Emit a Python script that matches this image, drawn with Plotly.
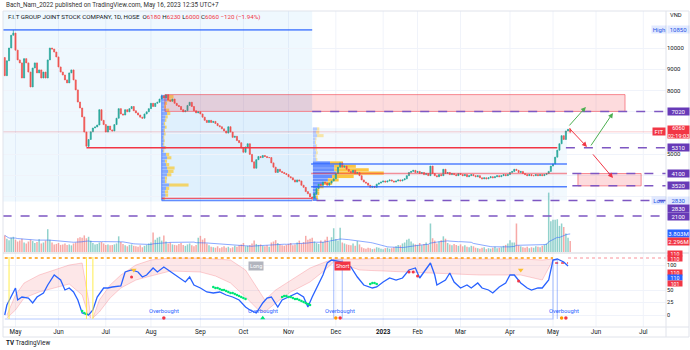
import numpy as np
import pandas as pd
import plotly.graph_objects as go

FONT = "Roboto, 'Liberation Sans', Arial, sans-serif"
TXT = "#131722"
UP, DN = "#26a69a", "#ef5350"
PURPLE = "#673ab7"

# ---------------- DATA ----------------
holidays = ["2022-05-02", "2022-05-03", "2022-09-01", "2022-09-02", "2023-01-02",
            "2023-01-20", "2023-01-23", "2023-01-24", "2023-01-25", "2023-01-26",
            "2023-05-01", "2023-05-02", "2023-05-03"]

first_open = 9550
close = [
    8700, 9400, 10000, 10600, 10700, 9900, 9440, 9300, 8590, 9500,
    9300, 8870, 8170, 9060, 9300, 8830, 8970, 8590, 8870, 8590,
    9440, 10000, 9950, 9810, 9580, 9110, 8870, 8730, 8500, 8360,
    8830, 8970, 8500, 8030, 7460, 7180, 6760, 6050, 5380, 5700,
    6060, 6240, 6290, 6380, 7100, 6600, 6400, 6050, 6330, 6150,
    6100, 6400, 6700, 7150, 6900, 6850, 7100, 7000, 7150, 7250,
    7050, 6950, 6850, 6750, 6700, 6900, 7000, 7150, 7400, 7250,
    7400, 7450, 7600, 7750, 7650, 7800, 7550, 7500, 7600, 7400,
    7300, 7250, 7100, 7000, 7050, 7300, 7450, 7250, 7050, 6950,
    7000, 6900, 6750, 6600, 6500, 6600, 6500, 6550, 6450, 6350,
    6300, 6200, 6100, 6000, 6300, 6050, 5800, 5850, 5650, 5550,
    5300, 5100, 5350, 5500, 5000, 4650, 4350, 4750, 4900, 4850,
    4950, 4900, 4850, 4850, 4600, 4400, 4150, 4300, 4200, 4150,
    4100, 4050, 3950, 3900, 3800, 3700, 3800, 3750, 3550, 3450,
    3250, 3150, 3000, 2950, 3150, 3400, 3600, 3550, 3700, 3650,
    3550, 3650, 3750, 3850, 4100, 4400, 4600, 4400, 4450, 4300,
    4200, 4150, 4250, 4100, 4150, 4000, 3800, 3700, 3650, 3550,
    3450, 3500, 3450, 3600, 3650, 3700, 3750, 3700, 3750, 3800,
    3750, 3700, 3750, 3800, 3750, 3800, 3850, 4000, 4150, 4200,
    4250, 4150, 4200, 4100, 4150, 4050, 4100, 4000, 4450, 4100,
    4000, 3950, 4050, 4000, 4300, 4100, 4150, 4050, 4100, 4050,
    4000, 4100, 4050, 4000, 4050, 3950, 4000, 4050, 4000, 3950,
    4000, 3900, 3850, 3900, 3850, 3900, 3950, 3900, 3950, 4000,
    3950, 4000, 4050, 4000, 4050, 4150, 4200, 4300, 4250, 4150,
    4200, 4100, 4050, 4000, 4050, 4000, 4000, 4050, 4000, 4050,
    4000, 4050, 4100, 4200, 4450, 4550, 4870, 5200, 5500, 5880,
    5700, 6100, 6180, 6060,
]
wick_high = {4: 10850, 263: 6230}
wick_low = {39: 5310, 143: 2830, 263: 6000}

volume_m = [
    3.5, 2.8, 2.5, 3.0, 3.2, 2.6, 2.2, 2.4, 2.8, 2.0,
    1.8, 2.2, 2.6, 2.3, 1.9, 2.1, 2.7, 1.8, 2.0, 2.4,
    4.8, 2.6, 2.0, 1.6, 1.7, 1.9, 1.5, 1.6, 1.8, 1.5,
    1.6, 1.4, 1.8, 2.0, 2.9, 3.1, 3.0, 3.5, 2.9, 3.2,
    2.4, 1.9, 1.6, 1.7, 2.0, 2.1, 1.8, 1.5, 1.6, 1.4,
    1.5, 1.6, 1.8, 3.3, 2.1, 1.7, 1.4, 1.2, 1.5, 1.6,
    1.3, 1.2, 1.1, 1.4, 1.0, 1.3, 1.5, 1.8, 2.0, 4.1,
    2.6, 3.0, 3.2, 2.4, 3.5, 2.2, 1.8, 2.0, 1.6, 1.5,
    1.4, 1.7, 1.9, 1.5, 1.3, 1.6, 1.8, 1.4, 1.2, 1.5,
    3.0, 3.4, 2.6, 2.9, 1.8, 1.4, 1.1, 1.0, 0.9, 1.2,
    0.8, 1.0, 1.2, 0.9, 1.1, 0.8, 1.0, 1.3, 1.1, 1.4,
    1.6, 1.9, 1.2, 1.3, 1.5, 1.8, 2.4, 1.7, 1.5, 1.6,
    1.3, 1.2, 1.4, 1.1, 2.0, 2.2, 2.5, 1.9, 1.6, 1.4,
    1.3, 1.5, 1.7, 1.9, 1.4, 1.6, 2.0, 2.4, 1.8, 2.1,
    3.4, 2.6, 2.8, 3.0, 2.2, 1.9, 1.7, 2.4, 2.1, 2.6,
    3.2, 2.2, 3.1, 5.0, 2.7, 2.4, 5.1, 2.0, 1.8, 1.6,
    1.5, 1.4, 1.8, 1.3, 2.3, 1.6, 1.0, 0.8, 0.7, 0.9,
    0.8, 0.6, 0.7, 1.0, 0.9, 0.7, 0.6, 0.8, 0.9, 0.7,
    0.8, 1.0, 1.2, 1.5, 1.4, 1.8, 2.0, 2.6, 2.8, 2.2,
    1.8, 1.6, 1.5, 1.9, 1.4, 1.7, 2.0, 1.6, 6.0, 2.9,
    2.4, 1.8, 2.2, 2.5, 3.3, 2.8, 1.9, 1.6, 1.4, 1.7,
    1.5, 1.3, 1.6, 1.2, 1.4, 1.1, 1.0, 1.3, 1.2, 0.9,
    0.8, 0.7, 0.9, 1.0, 0.6, 0.8, 0.7, 0.9, 1.1, 0.8,
    0.9, 1.0, 1.3, 1.5, 1.8, 2.5, 2.0, 2.0, 6.0, 1.4,
    1.2, 1.0, 0.9, 1.1, 0.8, 1.0, 0.9, 1.2, 1.1, 1.0,
    1.3, 1.5, 1.8, 12.5, 6.5, 6.8, 6.8, 6.9, 5.5, 6.0,
    5.26, 3.9, 3.0, 2.296,
]

month_starts = ["2022-05-01", "2022-06-01", "2022-07-01", "2022-08-01", "2022-09-01",
                "2022-10-01", "2022-11-01", "2022-12-01", "2023-01-01", "2023-02-01",
                "2023-03-01", "2023-04-01", "2023-05-01", "2023-06-01", "2023-07-01"]
month_labels = ["May", "Jun", "Jul", "Aug", "Sep", "Oct", "Nov", "Dec", "<b>2023</b>",
                "Feb", "Mar", "Apr", "May", "Jun", "Jul"]

# oscillator (bar number, value)
osc_bar = [0, 1, 5, 6, 8, 11, 13, 15, 18, 20, 23, 26, 28, 30, 32, 34, 36, 39, 41, 43,
           46, 48, 50, 54, 56, 59, 62, 64, 66, 69, 71, 74, 76, 78, 81, 84, 86, 88, 91, 94,
           97, 100, 103, 106, 109, 112, 114, 117, 120, 122, 124, 127, 129, 131, 134, 136, 139, 141, 143, 146,
           148, 150, 152, 157, 161, 164, 167, 171, 173, 176, 179, 182, 185, 188, 191, 193, 195, 198, 200, 201,
           205, 207, 209, 212, 215, 217, 220, 222, 225, 227, 230, 233, 235, 237, 240, 243, 245, 248, 250, 253,
           255, 257, 260, 262]
osc_val = [0, 20, 54, 30, 36, 34, 24, 36, 44, 60, 80, 70, 50, 54, 46, 30, 4, 0, 10, 36,
           54, 54, 56, 58, 86, 90, 86, 76, 80, 94, 86, 96, 90, 84, 76, 66, 76, 60, 54, 46,
           44, 46, 40, 36, 30, 16, 10, 4, 24, 34, 36, 16, 30, 34, 40, 44, 36, 16, 36, 64,
           80, 104, 110, 106, 96, 76, 60, 54, 56, 66, 74, 70, 74, 90, 94, 74, 86, 104, 80, 60,
           70, 84, 66, 54, 60, 54, 64, 54, 50, 44, 56, 64, 80, 80, 64, 54, 50, 54, 54, 70,
           110, 112, 106, 98]

band_segments = [
    ([1, 5, 9, 16, 23, 30, 36, 39, 40],
     [0, 40, 64, 80, 90, 100, 104, 30, -6],
     [-6, 10, 34, 46, 54, 62, 40, -2, -6]),
    ([41, 44, 49, 54, 61, 68, 77, 91, 98, 105, 112, 118, 121, 126, 133, 142, 149, 153],
     [-6, 30, 60, 80, 100, 110, 114, 114, 112, 110, 90, 50, 30, 50, 70, 94, 106, 112],
     [-6, 6, 34, 54, 70, 78, 88, 86, 78, 64, 36, 10, 6, 24, 46, 66, 90, 106]),
    ([153, 165, 184, 198, 221, 240, 250, 255],
     [112, 112, 114, 114, 112, 112, 110, 112],
     [108, 90, 86, 84, 80, 80, 70, 110]),
]
green_bar = [36, 37, 38, 97, 98, 99, 100, 101, 102, 103, 104, 105, 106, 107, 108, 109, 110, 111, 112,
             129, 130, 131, 132, 133, 134, 135, 136, 137, 138, 139, 140, 141, 142, 170, 171, 172, 173]
green_val = [8, 4, 2, 56, 54, 54, 52, 50, 50, 48, 46, 44, 44, 42, 40, 38, 36, 34, 32,
             36, 38, 38, 36, 36, 34, 32, 32, 30, 28, 26, 24, 22, 20, 62, 64, 64, 62]
red_bar = [59, 188, 190, 192, 239]
red_val = [76, 86, 86, 78, 68]
tri_bar = [60, 240]
tri_val = [90, 90]
signal_bar = [0, 153, 153, 157, 157, 255, 255, 257, 257]
signal_val = [-8, -8, 110, 110, -8, -8, 110, 110, -8]
ob_bar = [74, 120, 156, 260]
ob_red = [74, 156, 261]
ob_orange = [154, 259]
ob_green = [120]
yellow_marks = [2, 38, 41]
long_bar, short_bar = 117, 157

# volume profiles (price row, up-volume width, down-volume width in bars)
vp1_base = 73
vp1_price = [7720, 7560, 7400, 7240, 7080, 6920, 6760, 6600, 6440, 6280, 6120, 5960, 5800, 5640, 5480, 5320,
             5160, 5000, 4840, 4680, 4520, 4360, 4200, 4040, 3880, 3720, 3560, 3400, 3240, 3080, 2920]
vp1_up = [3.0, 2.5, 1.5, 1.2, 2.0, 2.5, 1.8, 1.5, 1.0, 1.5, 1.0, 1.2, 0.8, 1.0, 0.8, 1.5,
          0.8, 2.0, 2.5, 1.5, 2.0, 2.5, 3.0, 2.5, 1.5, 1.5, 3.5, 2.0, 1.5, 1.8, 1.0]
vp1_dn = [2.5, 3.0, 1.0, 0.8, 1.5, 1.5, 1.0, 0.7, 0.6, 0.8, 0.5, 0.6, 0.4, 0.4, 0.4, 0.6,
          0.4, 1.5, 2.0, 1.0, 1.5, 3.5, 2.5, 2.0, 1.0, 0.8, 9.0, 1.5, 1.5, 1.2, 0.6]
vp2_base = 143.3
vp2_price = [6200, 6040, 5880, 5720, 5560, 5400, 5240, 5080, 4920, 4760, 4600, 4440, 4280, 4120,
             3960, 3800, 3640, 3480, 3320, 3160, 3000, 2880]
vp2_up = [2.0, 1.5, 2.0, 1.2, 1.0, 1.5, 1.2, 1.5, 1.2, 1.5, 8.0, 10.0, 10.0, 11.0,
          9.0, 7.0, 5.0, 3.0, 2.0, 2.0, 1.5, 2.0]
vp2_dn = [1.0, 1.5, 3.0, 0.5, 0.5, 0.5, 0.8, 0.8, 0.5, 0.6, 6.0, 10.0, 16.0, 22.0,
          10.0, 5.0, 4.0, 2.0, 1.0, 1.0, 0.8, 0.5]

# drawings: (bar0, bar1, price0, price1)
zone_range = (-1, 143, 2780, 11800)
zone_vp1 = (73, 143, 2830, 7810)
zone_vp2 = (143, 261.5, 2830, 6230)
supply_box = (74.5, 288.5, 7020, 7810)
target_box = (266.6, 296, 3520, 4100)
period_high, period_low = 10850, 2830
range_top_line = (-1, 143, 10850)
support_line = (38, 257, 5310)
vah_line = (142.5, 261.5, 4550)
val_line = (142.5, 261.5, 3480)
poc_line = (142.5, 261.5, 4100)
vp1_bottom_red = (73, 143, 2930)
dashed_levels = [(7020, 143), (5310, 261), (4100, 264), (3520, 264), (2830, 145), (2100, -1)]
up_arrows = [(262, 6290, 270.3, 7230), (272.2, 5350, 282.9, 6950)]
down_arrows = [(262, 6290, 270.8, 5350), (273, 5070, 282.9, 3890)]
last_right_bar = 308

# ---------------- DERIVED ----------------
n = len(close)
bars = list(range(n))
opens = [first_open] + close[:-1]
highs = [max(o, c) for o, c in zip(opens, close)]
lows = [min(o, c) for o, c in zip(opens, close)]
for k, v in wick_high.items():
    highs[k] = max(highs[k], v)
for k, v in wick_low.items():
    lows[k] = min(lows[k], v)
vol_ma = pd.Series(volume_m).rolling(20, min_periods=1).mean().tolist()
vol_colors = ["rgba(38,166,154,0.5)" if c >= o else "rgba(239,83,80,0.5)" for o, c in zip(opens, close)]

cal = pd.bdate_range("2022-04-25", "2023-07-31")
cal = cal[~cal.isin(pd.to_datetime(holidays))]
month_pos = [int(np.searchsorted(cal.values, np.datetime64(m))) for m in month_starts]

# ---------------- GEOMETRY ----------------
def PX(x):
    return x / 690.0

def PY(y):
    return 1 - y / 350.0

X_RANGE = [-0.81, 307.56]
PRICE_DOM = [PY(252), PY(11)]
IND_DOM = [PY(327), PY(253)]

fig = go.Figure()

# volume profile bars
def add_profile(base, prices, up, dn, light_above=None):
    bcol, ycol = [], []
    for p in prices:
        if light_above is not None and p > light_above:
            bcol.append("rgba(41,98,255,0.30)")
            ycol.append("rgba(255,193,7,0.35)")
        else:
            bcol.append("rgba(41,98,255,0.70)" if light_above is not None else "rgba(41,98,255,0.50)")
            ycol.append("rgba(255,179,0,0.75)" if light_above is not None else "rgba(255,193,7,0.60)")
    fig.add_trace(go.Bar(orientation="h", y=prices, x=up, base=[base] * len(prices), width=145,
                         marker=dict(color=bcol, line_width=0), hoverinfo="skip", xaxis="x", yaxis="y"))
    fig.add_trace(go.Bar(orientation="h", y=prices, x=dn, base=[base + u for u in up], width=145,
                         marker=dict(color=ycol, line_width=0), hoverinfo="skip", xaxis="x", yaxis="y"))

add_profile(vp1_base, vp1_price, vp1_up, vp1_dn)
add_profile(vp2_base, vp2_price, vp2_up, vp2_dn, light_above=4700)

# candles
fig.add_trace(go.Candlestick(
    x=bars, open=opens, high=highs, low=lows, close=close,
    increasing=dict(line=dict(color=UP, width=0.7), fillcolor=UP),
    decreasing=dict(line=dict(color=DN, width=0.7), fillcolor=DN),
    whiskerwidth=0, hoverinfo="skip", xaxis="x", yaxis="y"))

# volume
fig.add_trace(go.Bar(x=bars, y=volume_m, width=0.7, marker=dict(color=vol_colors, line_width=0),
                     hoverinfo="skip", xaxis="x", yaxis="y2"))
fig.add_trace(go.Scatter(x=bars, y=vol_ma, mode="lines", line=dict(color="rgba(41,98,255,0.55)", width=1),
                         hoverinfo="skip", xaxis="x", yaxis="y2"))

# indicator
for bx, up_, lo_ in band_segments:
    fig.add_trace(go.Scatter(x=bx + bx[::-1], y=up_ + lo_[::-1], mode="lines", fill="toself",
                             fillcolor="rgba(242,54,69,0.12)", line=dict(color="rgba(242,54,69,0.28)", width=0.8),
                             hoverinfo="skip", xaxis="x", yaxis="y3"))
fig.add_trace(go.Scatter(x=[0, 255], y=[114, 114], mode="lines", line=dict(color="#ff9800", width=1.5, dash="dot"),
                         hoverinfo="skip", xaxis="x", yaxis="y3"))
fig.add_trace(go.Scatter(x=[256, 262], y=[104, 104], mode="lines", line=dict(color="#f23645", width=1.5, dash="dot"),
                         hoverinfo="skip", xaxis="x", yaxis="y3"))
fig.add_trace(go.Scatter(x=[262, last_right_bar], y=[114, 114], mode="lines",
                         line=dict(color="rgba(242,54,69,0.55)", width=1.2, dash="dot"),
                         hoverinfo="skip", xaxis="x", yaxis="y3"))
fig.add_trace(go.Scatter(x=signal_bar, y=signal_val, mode="lines", line=dict(color="rgba(41,98,255,0.35)", width=1.2),
                         hoverinfo="skip", xaxis="x", yaxis="y3"))
fig.add_trace(go.Scatter(x=osc_bar, y=osc_val, mode="lines", line=dict(color="#2962ff", width=1.3),
                         hoverinfo="skip", xaxis="x", yaxis="y3"))
fig.add_trace(go.Scatter(x=green_bar, y=green_val, mode="markers", marker=dict(color="#00e676", size=2.6),
                         hoverinfo="skip", xaxis="x", yaxis="y3"))
fig.add_trace(go.Scatter(x=red_bar, y=red_val, mode="markers", marker=dict(color="#f23645", size=3),
                         hoverinfo="skip", xaxis="x", yaxis="y3"))
fig.add_trace(go.Scatter(x=tri_bar, y=tri_val, mode="markers", marker=dict(color="#fbc02d", size=5, symbol="triangle-down"),
                         hoverinfo="skip", xaxis="x", yaxis="y3"))
fig.add_trace(go.Scatter(x=ob_red, y=[-6] * len(ob_red), mode="markers", marker=dict(color="#f23645", size=3.5),
                         hoverinfo="skip", xaxis="x", yaxis="y3"))
fig.add_trace(go.Scatter(x=ob_orange, y=[-6] * len(ob_orange), mode="markers", marker=dict(color="#ff9800", size=3.5),
                         hoverinfo="skip", xaxis="x", yaxis="y3"))
fig.add_trace(go.Scatter(x=ob_green, y=[-6] * len(ob_green), mode="markers",
                         marker=dict(color="#00e676", size=4.5, symbol="triangle-up"),
                         hoverinfo="skip", xaxis="x", yaxis="y3"))

# ---------------- SHAPES ----------------
shapes = []

def rect(b, fill, line="rgba(0,0,0,0)", lw=0, layer="below"):
    shapes.append(dict(type="rect", xref="x", yref="y", x0=b[0], x1=b[1], y0=b[2], y1=b[3],
                       fillcolor=fill, line=dict(color=line, width=lw), layer=layer))

def hline(x0, x1, y, color, width=1.2, dash="solid", yref="y", layer="above"):
    shapes.append(dict(type="line", xref="x", yref=yref, x0=x0, x1=x1, y0=y, y1=y,
                       line=dict(color=color, width=width, dash=dash), layer=layer))

def pline(x0, y0, x1, y1, color="#e0e3eb", width=1):
    shapes.append(dict(type="line", xref="paper", yref="paper", x0=PX(x0), x1=PX(x1), y0=PY(y0), y1=PY(y1),
                       line=dict(color=color, width=width), layer="above"))

for mp in month_pos:
    shapes.append(dict(type="line", xref="x", yref="paper", x0=mp, x1=mp, y0=IND_DOM[0], y1=PRICE_DOM[1],
                       line=dict(color="#f0f3fa", width=1), layer="below"))

rect(zone_range, "rgba(33,150,243,0.07)")
rect(zone_vp1, "rgba(33,150,243,0.08)")
rect(zone_vp2, "rgba(33,150,243,0.06)")
shapes.append(dict(type="line", xref="x", yref="y", x0=zone_vp1[0], x1=zone_vp1[0], y0=zone_vp1[2], y1=zone_vp1[3],
                   line=dict(color="rgba(41,98,255,0.6)", width=1), layer="above"))
rect(supply_box, "rgba(242,54,69,0.18)", "rgba(242,54,69,0.55)", 1, layer="above")
rect(target_box, "rgba(242,54,69,0.18)", "rgba(242,54,69,0.55)", 1, layer="above")

hline(-1, last_right_bar, close[-1], "rgba(242,54,69,0.25)", 1)
hline(range_top_line[0], range_top_line[1], range_top_line[2], "rgba(41,98,255,0.7)", 1.6)
hline(support_line[0], support_line[1], support_line[2], "#f23645", 1.6)
hline(vah_line[0], vah_line[1], vah_line[2], "rgba(41,98,255,0.8)", 1.4)
hline(val_line[0], val_line[1], val_line[2], "rgba(41,98,255,0.8)", 1.4)
hline(poc_line[0], poc_line[1], poc_line[2], "rgba(242,54,69,0.55)", 1.4)
hline(vp1_bottom_red[0], vp1_bottom_red[1], vp1_bottom_red[2], "rgba(242,54,69,0.8)", 1.2)
hline(zone_vp1[0], zone_vp1[1], zone_vp1[2], "rgba(41,98,255,0.7)", 1.4)
for lvl, start in dashed_levels:
    hline(start, last_right_bar, lvl, "#7e57c2", 1.5, "dash")

for ym in yellow_marks:
    shapes.append(dict(type="line", xref="x", yref="y3", x0=ym, x1=ym, y0=-8, y1=116,
                       line=dict(color="rgba(255,235,59,0.9)", width=1), layer="above"))

# frame
pline(3, 11, 689, 11)
pline(3, 11, 3, 337)
pline(689, 11, 689, 337)
pline(3, 337, 689, 337)
pline(3, 327, 689, 327)
pline(3, 253, 689, 253, "#d1d4dc", 1)
pline(666, 11, 666, 337)

# ---------------- ANNOTATIONS ----------------
ann = []

def box(text, y, yref, bg, fg="#ffffff", xc=678.5, w=21, h=7, yshift=0, size=6):
    ann.append(dict(text=text, x=PX(xc), xref="paper", xanchor="center", y=y, yref=yref, yanchor="middle",
                    showarrow=False, bgcolor=bg, font=dict(size=size, color=fg, family=FONT),
                    width=w, height=h, borderpad=0, yshift=yshift))

def text(t, x, y, size=6.5, color=TXT, xanchor="left"):
    ann.append(dict(text=t, x=PX(x), xref="paper", xanchor=xanchor, y=PY(y), yref="paper", yanchor="middle",
                    showarrow=False, font=dict(size=size, color=color, family=FONT)))

text("Bach_Nam_2022 published on TradingView.com, May 16, 2023 12:35 UTC+7", 4, 5, 6.3, "#333")
chg = close[-1] - close[-2]
pct = chg / close[-2] * 100
rc = "#f23645"
sym = ("F.I.T GROUP JOINT STOCK COMPANY, 1D, HOSE  "
       f"O<span style='color:{rc}'>{opens[-1]}</span> H<span style='color:{rc}'>{highs[-1]}</span> "
       f"L<span style='color:{rc}'>{lows[-1]}</span> C<span style='color:{rc}'>{close[-1]}</span> "
       f"<span style='color:{rc}'>{chg:+d} ({pct:+.2f}%)</span>").replace("-", "\u2212")
text(sym, 6, 16.5, 6.2)
text("<b>TV</b> TradingView", 4, 342.5, 6.3)
text("VND", 668, 15, 5.8)

box("High", period_high, "y", "rgba(41,98,255,0.14)", "#1e53e5", xc=658.5, w=14)
box(f"{period_high}", period_high, "y", "rgba(41,98,255,0.14)", "#1e53e5")
box("Low", period_low, "y", "rgba(41,98,255,0.14)", "#1e53e5", xc=658.5, w=14)
box(f"{period_low}", period_low, "y", "rgba(41,98,255,0.14)", "#1e53e5")
for lvl, _ in dashed_levels:
    box(str(lvl), lvl, "y", PURPLE, yshift=(-8 if lvl == period_low else 0))
box("FIT", close[-1], "y", "#f23645", xc=659, w=12)
box(f"{close[-1]}<br>02:19:03", close[-1], "y", "#f23645", h=12, size=5.6)
box(f"{vol_ma[-1]:.3f}M", vol_ma[-1], "y2", "#2962ff")
box(f"{volume_m[-1]:.3f}M", volume_m[-1], "y2", "#f23645")
for lab, ypx, col in [("110", 253, "#f23645"), ("110", 258, "#f23645"), ("110", 272, "#f23645"),
                      ("110", 277.5, "#2962ff"), ("101", 283.5, "#f23645")]:
    box(lab, PY(ypx), "paper", col, w=14, h=5, size=5.2, xc=675)

for ob in ob_bar:
    ann.append(dict(text="Overbought", x=ob, xref="x", y=8, yref="y3", showarrow=False,
                    font=dict(size=5.8, color="#2962ff", family=FONT)))
ann.append(dict(text="Long", x=long_bar, xref="x", y=98, yref="y3", showarrow=False, bgcolor="#b2b5be",
                font=dict(size=5.5, color="white", family=FONT), borderpad=1))
ann.append(dict(text="Short", x=short_bar, xref="x", y=98, yref="y3", showarrow=False, bgcolor="#f23645",
                font=dict(size=5.5, color="white", family=FONT), borderpad=1))

for (x0, y0, x1, y1), col in [(a, "#4caf50") for a in up_arrows] + [(a, "#f23645") for a in down_arrows]:
    ann.append(dict(x=x1, y=y1, xref="x", yref="y", ax=x0, ay=y0, axref="x", ayref="y", text="",
                    showarrow=True, arrowhead=2, arrowsize=1, arrowwidth=1, arrowcolor=col))

fig.update_layout(
    width=690, height=350, margin=dict(l=0, r=0, t=0, b=0),
    paper_bgcolor="white", plot_bgcolor="white", showlegend=False, barmode="overlay",
    font=dict(family=FONT, size=6.5, color=TXT),
    xaxis=dict(domain=[PX(3), PX(666)], range=X_RANGE, anchor="y3", tickvals=month_pos, ticktext=month_labels,
               showgrid=False, zeroline=False, showline=False, ticks="", tickfont=dict(size=6.3, color=TXT),
               rangeslider=dict(visible=False), fixedrange=True),
    yaxis=dict(domain=PRICE_DOM, range=[412, 11739], side="right", anchor="x",
               tickvals=[10000, 9000, 8000, 7000, 6000, 5000, 4000, 3000],
               ticktext=["10000", "9000", "8000", "", "", "5000", "", ""],
               showgrid=True, gridcolor="#f0f3fa", zeroline=False, ticks="", tickfont=dict(size=6, color=TXT)),
    yaxis2=dict(overlaying="y", range=[0, 50.74], visible=False, anchor="x"),
    yaxis3=dict(domain=IND_DOM, range=[-24, 124], side="right", anchor="x", tickvals=[0, 25, 50, 100],
                showgrid=True, gridcolor="#f0f3fa", zeroline=False, ticks="", tickfont=dict(size=5.6, color=TXT)),
    shapes=shapes, annotations=ann,
)

fig.write_html("out.html", post_script="document.body.style.margin='0';")
